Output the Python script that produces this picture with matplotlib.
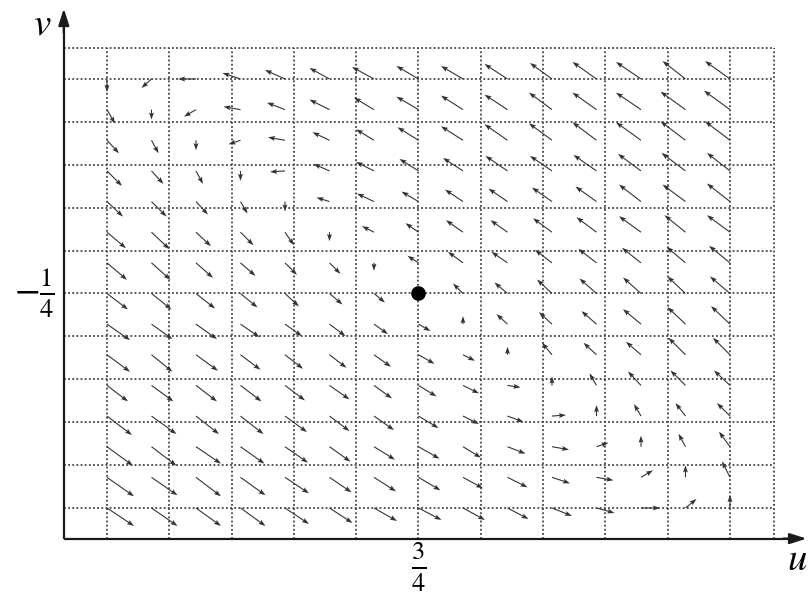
import numpy as np
import matplotlib
matplotlib.use("Agg")
import matplotlib.pyplot as plt

plt.rcParams['mathtext.fontset'] = 'stix'
plt.rcParams['font.family'] = ['Liberation Serif', 'DejaVu Serif']

# Direction-field samples: 15 x 15 grid (rows from top to bottom, columns left to right)
# arrow components (screen pixels: dx to the right, dy upward)
DX = [
    [0, -10, -18, -18, -20, -20, -22, -22, -22, -23, -22, -24, -25, -23, -25],
    [8, 0, -12, -17, -18, -20, -20, -22, -22, -23, -23, -24, -25, -25, -26],
    [12, 7, 0, -12, -17, -17, -18, -21, -22, -23, -23, -24, -25, -25, -25],
    [15, 12, 7, 0, -15, -16, -18, -19, -20, -22, -22, -23, -23, -24, -23],
    [16, 15, 12, 7, 0, -13, -17, -17, -18, -19, -20, -21, -22, -23, -23],
    [19, 18, 15, 13, 9, 0, -12, -13, -17, -17, -19, -20, -22, -21, -23],
    [20, 19, 17, 15, 12, 11, 0, -11, -15, -16, -17, -18, -19, -19, -21],
    [21, 20, 19, 17, 14, 13, 11, 0, -10, -13, -15, -17, -18, -18, -20],
    [23, 21, 21, 19, 17, 16, 14, 12, 0, -11, -13, -15, -18, -18, -19],
    [23, 21, 22, 20, 18, 17, 17, 16, 12, 0, -10, -13, -15, -17, -17],
    [21, 22, 21, 21, 20, 20, 18, 18, 16, 13, 0, -7, -13, -15, -16],
    [25, 25, 23, 23, 22, 20, 20, 20, 16, 16, 14, 0, -7, -10, -13],
    [26, 25, 25, 24, 23, 21, 21, 21, 18, 18, 17, 12, 0, -7, -11],
    [27, 26, 25, 25, 24, 22, 22, 22, 20, 20, 18, 17, 12, 0, -8],
    [27, 26, 25, 25, 24, 23, 23, 23, 22, 21, 20, 18, 19, 11, 0],
]
DY = [
    [-13, -9, 0, 6, 9, 11, 12, 13, 13, 15, 16, 17, 17, 18, 18],
    [-14, -10, -7, 3, 7, 10, 12, 13, 14, 15, 17, 17, 17, 18, 19],
    [-13, -13, -10, -4, 3, 8, 11, 13, 14, 16, 17, 18, 18, 19, 19],
    [-15, -13, -13, -10, -1, 7, 9, 12, 13, 15, 15, 16, 17, 18, 18],
    [-15, -15, -13, -12, -10, 4, 8, 10, 12, 13, 14, 15, 17, 17, 18],
    [-16, -17, -14, -13, -13, -9, 6, 9, 12, 12, 14, 15, 16, 17, 17],
    [-17, -17, -15, -13, -12, -11, -8, 7, 11, 11, 13, 14, 15, 16, 17],
    [-16, -16, -15, -14, -13, -11, -9, 0, 10, 11, 14, 15, 16, 17, 17],
    [-16, -15, -15, -13, -12, -12, -10, -7, 8, 10, 12, 13, 15, 17, 18],
    [-17, -17, -16, -15, -14, -13, -12, -9, -6, 8, 12, 12, 13, 17, 17],
    [-16, -16, -16, -16, -15, -14, -13, -11, -8, -2, 9, 12, 14, 15, 15],
    [-19, -18, -18, -18, -16, -15, -14, -12, -8, -6, 1, 11, 12, 13, 13],
    [-19, -19, -17, -17, -16, -15, -13, -12, -11, -7, -3, 4, 11, 13, 15],
    [-19, -18, -19, -18, -16, -15, -14, -13, -11, -10, -6, -3, 7, 12, 16],
    [-18, -18, -18, -18, -16, -15, -13, -12, -12, -11, -8, -5, 0, 9, 13],
]

equilibrium = (7, 7)              # grid position of the marked point
tick_u_label = r'$\frac{3}{4}$'
tick_v_label = r'$-\frac{1}{4}$'
axis_labels = ('u', 'v')

n = len(DX)
cols = np.arange(n)
rows = (n - 1) - np.arange(n)
X, Y = np.meshgrid(cols, rows)
U = np.array(DX, dtype=float)
V = np.array(DY, dtype=float)

fig = plt.figure(figsize=(8.08, 5.93), dpi=100)
ax = fig.add_axes([0, 0, 1, 1])
ax.set_xlim(-2.404, 15.753)
ax.set_ylim(-2.775, 16.578)
ax.axis('off')

# dotted grid
grid_pos = np.linspace(0, 14, 11)
dot_style = dict(color='#444444', lw=1.3, ls=(0, (1, 1.3)), zorder=1)
for g in list(grid_pos) + [15]:
    ax.plot([g, g], [-1, 15], **dot_style)
    ax.plot([-0.97, 15], [g, g], **dot_style)

# axes with arrows
axis_col = '#1a1a1a'
ax.plot([-0.97, 15.45], [-1, -1], color=axis_col, lw=1.6, zorder=3, solid_capstyle='butt')
ax.plot([-0.97, -0.97], [-1, 15.8], color=axis_col, lw=1.6, zorder=3, solid_capstyle='butt')
ax.annotate('', xy=(15.72, -1), xytext=(15.2, -1),
            arrowprops=dict(arrowstyle='-|>,head_length=1.0,head_width=0.32',
                            color=axis_col, lw=1.6, shrinkA=0, shrinkB=0), zorder=4)
ax.annotate('', xy=(-0.97, 16.3), xytext=(-0.97, 15.5),
            arrowprops=dict(arrowstyle='-|>,head_length=1.0,head_width=0.32',
                            color=axis_col, lw=1.6, shrinkA=0, shrinkB=0), zorder=4)

# direction field
ax.quiver(X, Y, U, V, angles='uv', scale_units='dots', scale=1, pivot='tail',
          units='dots', width=1.1, headwidth=4.5, headlength=6.5, headaxislength=5.5,
          color='#333333', zorder=5)

# equilibrium point
ax.plot(*equilibrium, 'o', color='black', ms=9.5, zorder=6)

# labels
ax.text(equilibrium[0], -1.92, tick_u_label, ha='center', va='center', fontsize=27)
ax.text(-1.62, equilibrium[1], tick_v_label, ha='center', va='center', fontsize=27)
ax.text(15.74, -1.72, r'$' + axis_labels[0] + '$', ha='right', va='center', fontsize=28)
ax.text(-1.45, 15.75, r'$' + axis_labels[1] + '$', ha='center', va='center', fontsize=28)

fig.savefig('out.png', dpi=100)
